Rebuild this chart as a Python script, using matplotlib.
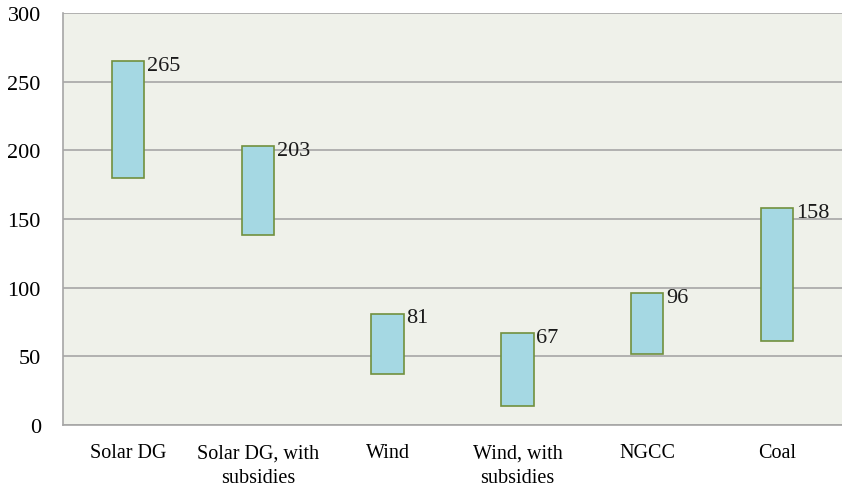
import matplotlib
matplotlib.use("Agg")
import matplotlib.pyplot as plt
import numpy as np

# cost ranges per technology
categories = ["Solar DG", "Solar DG, with\nsubsidies", "Wind", "Wind, with\nsubsidies", "NGCC", "Coal"]
low = [180, 138, 37, 14, 52, 61]
high = [265, 203, 81, 67, 96, 158]

plt.rcParams["font.family"] = ["Liberation Serif", "DejaVu Serif"]

fig = plt.figure(figsize=(8.42, 4.89), dpi=100)
ax = fig.add_axes([63 / 842, 1 - 426 / 489, 779 / 842, 412 / 489])
ax.set_facecolor("#EFF1EA")

x = np.arange(len(categories))
heights = np.array(high) - np.array(low)
ax.bar(x, heights, bottom=low, width=0.25, color="#A5D8E3",
       edgecolor="#71903E", linewidth=1.2, zorder=3)

for xi, h in zip(x, high):
    ax.annotate(str(h), (xi + 0.125, h), xytext=(2, -3), textcoords="offset points",
                ha="left", va="center", fontsize=16, color="#1a1a1a", zorder=4)

ax.set_xlim(-0.5, len(categories) - 0.5)
ax.set_ylim(0, 300)
ax.set_yticks(range(0, 301, 50))
ax.set_xticks(x)
ax.set_xticklabels(categories, fontsize=14.5, linespacing=1.45)
ax.tick_params(axis="y", labelsize=16, length=0, pad=16)
ax.tick_params(axis="x", length=0, pad=13)
ax.grid(axis="y", color="#A6A6A6", linewidth=1.2, zorder=1)
for side in ["left", "bottom"]:
    ax.spines[side].set_color("#A6A6A6")
    ax.spines[side].set_linewidth(1.2)
for side in ["top", "right"]:
    ax.spines[side].set_visible(False)

fig.savefig("out.png", dpi=100)
plt.close()
